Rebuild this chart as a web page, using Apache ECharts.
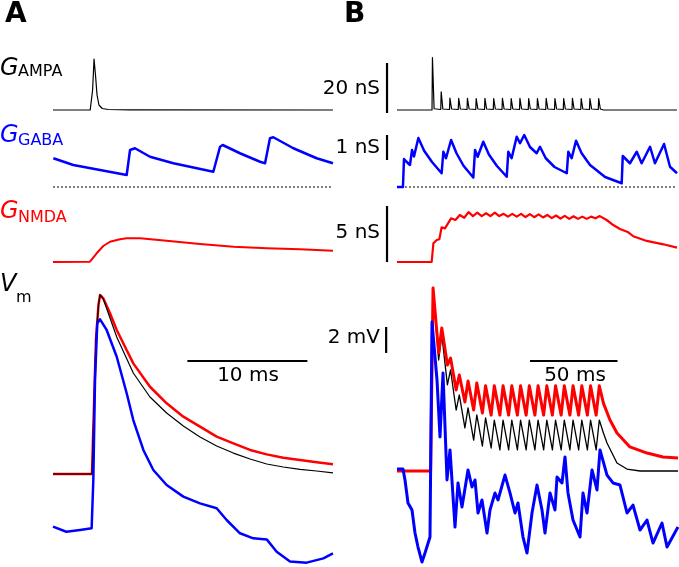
<!DOCTYPE html>
<html><head><meta charset="utf-8">
<script src="https://cdn.jsdelivr.net/npm/echarts@6/dist/echarts.min.js"></script>
<style>html,body{margin:0;padding:0;background:#fff}#c{width:679px;height:567px}</style>
</head><body><div id="c"></div>
<script>
// ---- Panel A (time in ms) ----
const ampaA = [[0,0],[3.1,0],[3.18,0.4],[3.3,8],[3.42,20.4],[3.54,14],[3.67,6],[3.83,2],[4.1,0.6],[4.6,0.2],[6.4,0.05],[23.33,0]];
const gabaA = [[0.03,1.15],[1.69,0.88],[3.92,0.68],[6.14,0.48],[6.25,0.52],[6.42,1.48],[6.83,1.55],[8.08,1.21],[10.03,0.95],[13.36,0.61],[13.5,0.6],[13.92,1.61],[14.14,1.68],[15.58,1.35],[17.25,1.01],[17.67,0.95],[17.83,0.96],[18.08,1.95],[18.36,1.99],[20.03,1.55],[21.97,1.15],[23.33,0.95]];
const nmdaA = [[0,0],[3.08,0.03],[3.64,0.78],[4.19,1.43],[4.75,1.81],[5.58,2.03],[6.14,2.12],[7.25,2.12],[9.47,1.9],[12.25,1.61],[15.03,1.37],[17.81,1.22],[20.58,1.13],[23.33,1.01]];
const vmRedA = [[0,-0.23],[3.25,-0.23],[3.38,3.92],[3.58,10.08],[3.79,12.77],[3.92,13.54],[4.19,13.28],[4.75,12.13],[5.31,10.85],[6.0,9.56],[6.69,8.28],[8.08,6.48],[9.47,5.21],[10.86,4.18],[12.25,3.41],[13.64,2.64],[15.03,2.13],[16.42,1.62],[17.81,1.28],[19.19,1.02],[20.58,0.85],[21.97,0.67],[23.33,0.52]];
const vmBlackA = [[0,-0.23],[3.25,-0.23],[3.38,3.92],[3.58,10.08],[3.79,12.77],[3.92,13.54],[4.19,13.23],[4.75,11.77],[5.31,10.31],[6.0,8.92],[6.69,7.54],[8.08,5.69],[9.47,4.46],[10.86,3.46],[12.25,2.62],[13.64,1.92],[15.03,1.38],[16.42,0.92],[17.81,0.54],[19.19,0.31],[20.58,0.12],[21.97,0],[23.33,-0.15]];
const vmBlueA = [[0,-4.28],[1.11,-4.67],[2.25,-4.54],[3.22,-4.41],[3.36,-0.69],[3.5,7],[3.69,11.36],[3.92,11.67],[4.47,10.85],[5.31,8.79],[6.14,5.98],[6.69,3.92],[7.53,1.62],[8.36,0.08],[9.47,-1.08],[10.86,-1.97],[12.25,-2.49],[13.64,-2.87],[14.47,-3.77],[15.58,-4.79],[16.69,-5.18],[17.81,-5.26],[18.64,-6.21],[19.75,-6.97],[21.14,-7.05],[22.53,-6.72],[23.33,-6.33]];
const zeroA = [[0,0],[23.33,0]];

// ---- Panel B (time in ms) ----
const ampaB = [[0,0],[20,0],[20.25,21],[21.2,0.5],
 [25,0.2],[25.25,7.3],[26.2,0.4],[30,0.2],[30.25,4.8],[31.2,0.4],[35,0.2],[35.25,4.7],[36.2,0.4],
 [40,0.2],[40.25,4.7],[41.2,0.4],[45,0.2],[45.25,4.6],[46.2,0.4],[50,0.2],[50.25,4.7],[51.2,0.4],
 [55,0.2],[55.25,4.6],[56.2,0.4],[60,0.2],[60.25,4.7],[61.2,0.4],[65,0.2],[65.25,4.6],[66.2,0.4],
 [70,0.2],[70.25,4.7],[71.2,0.4],[75,0.2],[75.25,4.6],[76.2,0.4],[80,0.2],[80.25,4.6],[81.2,0.4],
 [85,0.2],[85.25,4.7],[86.2,0.4],[90,0.2],[90.25,4.6],[91.2,0.4],[95,0.2],[95.25,4.6],[96.2,0.4],
 [100,0.2],[100.25,4.7],[101.2,0.4],[105,0.2],[105.25,4.6],[106.2,0.4],[110,0.2],[110.25,4.6],[111.2,0.4],
 [115,0.2],[115.25,4.6],[116.2,0.4],[118,0],[160,0]];
const gabaB = [[0,0],[3.4,0],[4.0,1.12],[5.3,1.02],[7.4,0.88],[8.6,1.48],[9.7,1.22],[12.2,1.96],[15.5,1.45],[20,1.0],[25.5,0.55],
 [26.5,1.41],[28,1.15],[30.9,1.88],[34,1.35],[38,0.85],[43.6,0.38],
 [44.6,1.48],[46.1,1.21],[49.3,1.81],[52.5,1.3],[57,0.85],[62.7,0.41],
 [63.6,1.41],[65.5,1.15],[68.4,2.01],[70.3,1.75],[72.7,2.08],[76,1.6],[79.8,1.35],[81.7,1.61],[85,1.15],[90,0.8],[97,0.55],
 [97.9,1.41],[99.8,1.15],[102.3,1.85],[105.5,1.35],[110.3,0.88],[118.9,0.4],[128.4,0.15],
 [129,1.24],[133.1,0.95],[137,1.41],[139.8,0.95],[144.6,1.61],[147.4,0.95],[152.6,1.72],[156,0.81],[160,0.55]];
const nmdaB = [[0,0],[19.8,0],[20.8,1.67],[22.7,1.96],[24.2,2.03],[25.5,3.1],[27.4,3.0],[30.9,3.9],[33.4,3.75],[35.9,4.2],[38.4,3.95],[40.9,4.45],[43.4,4.1],[45.9,4.4],[48.4,4.1],[50.9,4.35],[53.4,4.1],[55.9,4.4],[58.4,4.1],[60.9,4.3],[63.4,4.05],[65.9,4.3],[68.4,4.05],[70.9,4.3],[73.4,4.0],[75.9,4.28],[78.4,4.0],[80.9,4.25],[83.4,3.98],[85.9,4.2],[88.4,3.92],[90.9,4.15],[93.4,3.88],[95.9,4.12],[98.4,3.85],[100.9,4.08],[103.4,3.85],[105.9,4.05],[108.4,3.85],[110.9,4.05],[113.4,3.9],[115.9,4.1],[119.8,3.75],[123.6,3.3],[127.4,2.95],[132.2,2.65],[135,2.3],[142.7,1.88],[152.2,1.58],[160,1.28]];
const vmRedB = [[0,0],[19.2,0],[20.6,14.08],[23.8,9.08],[25.6,11.0],[28.8,8.15],[30.6,8.69],[33.8,6.23],[35.6,7.38],[38.8,5.31],[40.6,6.92],[43.8,4.69],[45.6,6.77],[48.8,4.46],[50.6,6.55],[53.8,4.3],[55.6,6.55],[58.8,4.3],[60.6,6.55],[63.8,4.3],[65.6,6.55],[68.8,4.3],[70.6,6.55],[73.8,4.3],[75.6,6.55],[78.8,4.3],[80.6,6.55],[83.8,4.3],[85.6,6.55],[88.8,4.3],[90.6,6.55],[93.8,4.3],[95.6,6.55],[98.8,4.3],[100.6,6.55],[103.8,4.3],[105.6,6.55],[108.8,4.3],[110.6,6.55],[113.8,4.3],[115.6,6.55],[118,5.2],[121.7,3.92],[125.7,2.92],[133.1,1.85],[142.9,1.38],[152,1.08],[160.6,1.0]];
const vmBlackB = [[0,0],[19.2,0],[20.6,14.08],[23.8,8.54],[25.6,10.46],[28.8,6.62],[30.6,7.77],[33.8,4.69],[35.6,5.85],[38.8,3.31],[40.6,4.85],[43.8,2.38],[45.6,4.31],[48.8,1.92],[50.6,4.08],[53.8,1.77],[55.6,3.92],[58.8,1.62],[60.6,3.92],[63.8,1.62],[65.6,3.92],[68.8,1.62],[70.6,3.92],[73.8,1.62],[75.6,3.92],[78.8,1.62],[80.6,3.92],[83.8,1.62],[85.6,3.92],[88.8,1.62],[90.6,3.92],[93.8,1.62],[95.6,3.92],[98.8,1.62],[100.6,3.92],[103.8,1.62],[105.6,3.92],[108.8,1.62],[110.6,3.92],[113.8,1.62],[115.6,3.92],[118,2.9],[120,2.15],[125.7,0.62],[131.4,0.15],[138.9,0],[160.6,0]];
const vmBlueB = [[0,0.15],[3.43,0.15],[4.57,-0.69],[6.29,-2.46],[8.57,-3.0],[10.29,-4.77],[12.0,-5.85],[14.29,-7.0],[16.0,-6.31],[18.86,-5.08],[20.0,11.46],[22.86,7.0],[24.57,2.62],[26.29,7.54],[28.57,-0.69],[30.29,1.62],[33.14,-4.31],[34.86,-0.92],[37.14,-2.77],[40.57,0.08],[42.86,-1.23],[44.57,-0.69],[46.29,-3.23],[48.57,-2.23],[51.43,-4.77],[53.14,-3.0],[56.0,-1.69],[57.71,-2.23],[61.71,-0.31],[64.57,-1.69],[67.43,-3.23],[69.14,-2.46],[72.0,-5.08],[74.29,-6.31],[77.14,-3.23],[80.0,-1.08],[82.86,-3.0],[84.57,-4.77],[87.43,-1.69],[90.29,-3.0],[91.43,-0.46],[94.29,-0.92],[96.0,1.08],[97.71,-1.69],[100.57,-3.77],[104.57,-5.08],[106.29,-1.69],[108.57,-3.23],[111.43,0.08],[114.29,-1.46],[116.0,1.62],[120.0,-0.31],[123.43,-0.92],[127.43,-1.08],[131.43,-3.23],[134.86,-2.62],[138.86,-4.54],[142.86,-3.77],[146.29,-5.54],[151.43,-4.0],[154.29,-5.85],[160.57,-4.31]];
const zeroB = [[0,0],[160,0]];

// ---- scale bars ----
const barAmpa = [[-5.7,-1.2],[-5.7,18.8]];   // 20 nS
const barGaba = [[-5.7,1.08],[-5.7,2.08]];   // 1 nS
const barNmda = [[-5.7,0],[-5.7,5]];         // 5 nS
const barVm   = [[-6.2,9.08],[-6.2,11.08]];  // 2 mV
const barTimeA = [[11.2,8.46],[21.2,8.46]];  // 10 ms
const barTimeB = [[76,8.46],[126,8.46]];     // 50 ms

const rows = [
  {top:55, height:60, min:-2, max:22},
  {top:130, height:62, min:-0.2, max:2.28},
  {top:200, height:68, min:-0.5357, max:5.5357},
  {top:282, height:285, min:-7.3846, max:14.5385}
];
const grid=[], xAxis=[], yAxis=[];
rows.forEach((r,i)=>{
  grid.push({left:53, width:280, top:r.top, height:r.height});
  xAxis.push({type:'value', gridIndex:2*i, min:0, max:23.333, show:false});
  yAxis.push({type:'value', gridIndex:2*i, min:r.min, max:r.max, show:false});
  grid.push({left:362, width:315, top:r.top, height:r.height});
  xAxis.push({type:'value', gridIndex:2*i+1, min:-20, max:160, show:false});
  yAxis.push({type:'value', gridIndex:2*i+1, min:r.min, max:r.max, show:false});
});
function ln(ax, data, color, width, type){
  return {type:'line', xAxisIndex:ax, yAxisIndex:ax, data:data, showSymbol:false, symbol:'none',
    silent:true, animation:false, clip:false,
    lineStyle:{color:color, width:width, type:type||'solid', cap:'butt', join:'round'}};
}
const BLUE='#0000ff', RED='#ff0000', BLK='#000000';
const series = [
  ln(0, ampaA, BLK, 1.2),
  ln(1, ampaB, BLK, 1.2),
  ln(2, zeroA, BLK, 1, [2,2]),
  ln(3, zeroB, BLK, 1, [2,2]),
  ln(2, gabaA, BLUE, 2.5),
  ln(3, gabaB, BLUE, 2.5),
  ln(4, nmdaA, RED, 2),
  ln(5, nmdaB, RED, 2.2),
  ln(6, vmRedA, RED, 2.5),
  ln(6, vmBlackA, BLK, 1.2),
  ln(6, vmBlueA, BLUE, 2.5),
  ln(7, vmBlackB, BLK, 1.3),
  ln(7, vmRedB, RED, 3),
  ln(7, vmBlueB, BLUE, 3),
  ln(1, barAmpa, BLK, 2.2),
  ln(3, barGaba, BLK, 2.2),
  ln(5, barNmda, BLK, 2.2),
  ln(7, barVm, BLK, 2.2),
  ln(6, barTimeA, BLK, 2),
  ln(7, barTimeB, BLK, 2)
];
const F = '"DejaVu Sans", Verdana, sans-serif';
function txt(t, x, y, size, color, opts){
  opts = opts || {};
  return {type:'text', x:x, y:y, silent:true, style:{text:t, fill:color||'#000',
    font:(opts.style||'normal')+' '+(opts.weight||'normal')+' '+size+'px '+F,
    align:opts.align||'left', verticalAlign:'middle'}};
}
const graphic = [
  txt('A', 5, 15, 28, BLK, {weight:'bold'}),
  txt('B', 344, 15, 28, BLK, {weight:'bold'}),
  txt('G', 0, 69, 24, BLK, {style:'italic'}),
  txt('AMPA', 18, 72, 16, BLK),
  txt('G', 0, 136, 24, BLUE, {style:'italic'}),
  txt('GABA', 18, 141, 16, BLUE),
  txt('G', 0, 211.5, 24, RED, {style:'italic'}),
  txt('NMDA', 18, 217.5, 16, RED),
  txt('V', 0, 285, 24, BLK, {style:'italic'}),
  txt('m', 16, 298, 16, BLK),
  txt('20 nS', 380, 88.5, 20, BLK, {align:'right'}),
  txt('1 nS', 380, 148, 20, BLK, {align:'right'}),
  txt('5 nS', 380, 233, 20, BLK, {align:'right'}),
  txt('2 mV', 380, 338, 20, BLK, {align:'right'}),
  txt('10 ms', 248, 376, 20, BLK, {align:'center'}),
  txt('50 ms', 575, 376, 20, BLK, {align:'center'})
];
const chart = echarts.init(document.getElementById('c'), null, {renderer:'canvas', width:679, height:567});
chart.setOption({backgroundColor:'#fff', animation:false, grid, xAxis, yAxis, series, graphic});
</script>
</body></html>
